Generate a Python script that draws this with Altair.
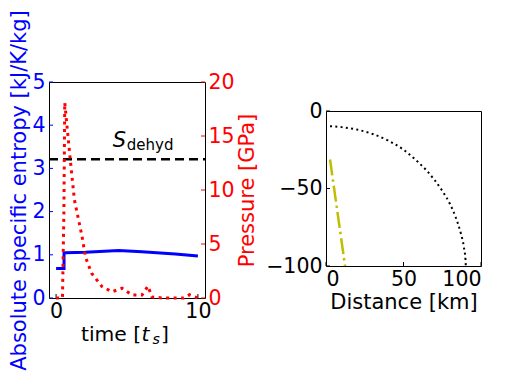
import altair as alt
import pandas as pd

FONT = "DejaVu Sans"
FS = 20.5
TFS = 21
XFS = 20.3

# ---- left panel data ----
ent_t = [0.0, 0.56, 0.56, 0.66, 2.07, 4.41, 6.06, 8.4, 10.0]
ent_v = [0.68, 0.68, 1.05, 1.05, 1.06, 1.10, 1.07, 1.02, 0.97]

pres_t = [0.0, 0.45, 0.55, 0.61, 0.77, 1.0, 1.29, 1.48, 1.83, 2.07, 2.5, 3.24,
          3.94, 4.65, 5.35, 6.06, 6.48, 6.76, 7.5, 9.0, 9.4, 10.0]
pres_v = [0.0, 0.0, 8.0, 18.1, 15.9, 12.8, 9.1, 7.9, 5.7, 3.8, 2.3, 1.05,
          0.58, 0.9, 0.28, 0.28, 1.1, 0.1, 0.0, 0.0, 0.3, 0.0]

s_dehyd = 3.21
ent_ticks = [0, 1, 2, 3, 4, 5]
pres_ticks = [0, 5, 10, 15, 20]
time_ticks = [0, 10]

# ---- right panel data ----
circ_x = [2.6, 10, 20, 30, 40, 50, 60, 65, 70, 75, 80, 84, 87, 89, 90, 90.2]
circ_y = [-9.8, -10.4, -12, -14.8, -19, -25, -33.5, -38.5, -44.5, -51.5, -60, -69.5, -79, -88, -96, -100]
yel_x = [2.6, 12.3]
yel_y = [-31.3, -100]
dist_ticks = [0, 50, 100]
depth_ticks = [-100, -50, 0]

LW, LH = 156, 216
RW, RH = 155, 155

ent_df = pd.DataFrame({"t": ent_t, "S": ent_v})
pres_df = pd.DataFrame({"t": pres_t, "P": pres_v})

xs = alt.Scale(domain=[-0.5, 10.5], nice=False)
ys = alt.Scale(domain=[0, 5], nice=False)
ps = alt.Scale(domain=[0, 20], nice=False)

ent_line = alt.Chart(ent_df).mark_line(color="blue", strokeWidth=3).encode(
    x=alt.X("t:Q", scale=xs, axis=alt.Axis(values=time_ticks, title=None, grid=False,
            ticks=False, domain=False, labelFont=FONT, labelFontSize=FS, labelColor="black",
            labelPadding=3)),
    y=alt.Y("S:Q", scale=ys, axis=alt.Axis(values=ent_ticks, title="Absolute specific entropy [kJ/K/kg]",
            grid=False, ticks=False, domain=False, labelFont=FONT, labelFontSize=FS,
            labelColor="blue", titleColor="blue", titleFont=FONT, titleFontSize=TFS,
            titleFontWeight="normal", labelPadding=4, titlePadding=2)),
)

ent_tick_rules = alt.Chart(pd.DataFrame({"S": ent_ticks})).mark_rule(color="blue", strokeWidth=1).encode(
    y=alt.Y("S:Q", scale=ys), x=alt.value(0), x2=alt.value(4))

time_tick_rules = alt.Chart(pd.DataFrame({"t": time_ticks})).mark_rule(color="black", strokeWidth=1).encode(
    x=alt.X("t:Q", scale=xs), y=alt.value(LH - 4), y2=alt.value(LH))

dehyd_rule = alt.Chart(pd.DataFrame({"S": [s_dehyd]})).mark_rule(
    color="black", strokeWidth=2.5, strokeDash=[9, 5]).encode(
    y=alt.Y("S:Q", scale=ys), x=alt.value(0), x2=alt.value(LW))

lab_df = pd.DataFrame({"t": [4.0], "S": [3.5]})
s_text = alt.Chart(lab_df).mark_text(text="S", font=FONT, fontSize=TFS, fontStyle="italic",
                                     align="left", baseline="alphabetic", color="black").encode(
    x=alt.X("t:Q", scale=xs), y=alt.Y("S:Q", scale=ys))
sub_text = alt.Chart(lab_df).mark_text(text="dehyd", font=FONT, fontSize=15, dx=14, dy=3,
                                       align="left", baseline="alphabetic", color="black").encode(
    x=alt.X("t:Q", scale=xs), y=alt.Y("S:Q", scale=ys))

one = pd.DataFrame({"a": [0]})
def ptxt(txt, x, y, size=XFS, style="normal"):
    return alt.Chart(one).mark_text(text=txt, font=FONT, fontSize=size, fontStyle=style,
                                    align="left", baseline="alphabetic", color="black").encode(
        x=alt.value(x), y=alt.value(y))

xt1 = ptxt("time [", 32, 258.5)
xt2 = ptxt("t", 92.5, 258.5, style="italic")
xt3 = ptxt("s", 103.5, 261.5, size=14.2, style="italic")
xt4 = ptxt("]", 112, 258.5)

pres_line = alt.Chart(pres_df).mark_line(color="red", strokeWidth=3, strokeDash=[3, 4.5]).encode(
    x=alt.X("t:Q", scale=xs),
    y=alt.Y("P:Q", scale=ps, axis=alt.Axis(orient="right", values=pres_ticks, title="Pressure [GPa]",
            grid=False, ticks=False, domain=False, labelFont=FONT, labelFontSize=FS,
            labelColor="red", titleColor="red", titleFont=FONT, titleFontSize=TFS,
            titleFontWeight="normal", titleAngle=270, titleBaseline="top",
            labelPadding=3, titlePadding=2)),
)
pres_tick_rules = alt.Chart(pd.DataFrame({"P": pres_ticks})).mark_rule(color="red", strokeWidth=1).encode(
    y=alt.Y("P:Q", scale=ps), x=alt.value(LW - 4), x2=alt.value(LW))

left_a = alt.layer(ent_line, ent_tick_rules, time_tick_rules, dehyd_rule, s_text, sub_text,
                   xt1, xt2, xt3, xt4)
left_b = alt.layer(pres_line, pres_tick_rules)
left = alt.layer(left_a, left_b).resolve_scale(y="independent").properties(width=LW, height=LH)

# ---- right panel ----
dx = alt.Scale(domain=[0, 100], nice=False)
dy = alt.Scale(domain=[-100, 0], nice=False)
circ_df = pd.DataFrame({"x": circ_x, "y": circ_y})
yel_df = pd.DataFrame({"x": yel_x, "y": yel_y})

circ_line = alt.Chart(circ_df).mark_line(color="black", strokeWidth=2, strokeDash=[2, 3.3],
                                         interpolate="monotone").encode(
    x=alt.X("x:Q", scale=dx, axis=alt.Axis(values=dist_ticks, title="Distance [km]", grid=False,
            ticks=False, domain=False, labelFont=FONT, labelFontSize=FS, labelColor="black",
            titleFont=FONT, titleFontSize=TFS, titleFontWeight="normal", titleColor="black",
            labelPadding=3, titlePadding=2)),
    y=alt.Y("y:Q", scale=dy, axis=alt.Axis(values=depth_ticks, title=None, grid=False,
            ticks=False, domain=False, labelFont=FONT, labelFontSize=FS, labelColor="black",
            labelPadding=4)),
)
yel_line = alt.Chart(yel_df).mark_line(color="#bfbf00", strokeWidth=2.5, strokeDash=[16, 4, 2.5, 4]).encode(
    x=alt.X("x:Q", scale=dx), y=alt.Y("y:Q", scale=dy))
r_xt = alt.Chart(pd.DataFrame({"x": dist_ticks})).mark_rule(color="black", strokeWidth=1).encode(
    x=alt.X("x:Q", scale=dx), y=alt.value(RH - 4), y2=alt.value(RH))
r_yt = alt.Chart(pd.DataFrame({"y": depth_ticks})).mark_rule(color="black", strokeWidth=1).encode(
    y=alt.Y("y:Q", scale=dy), x=alt.value(0), x2=alt.value(4))

right = alt.layer(circ_line, yel_line, r_xt, r_yt).properties(width=RW, height=RH)

spacer = alt.Chart(one).mark_point(opacity=0).encode(x=alt.value(0), y=alt.value(0)).properties(
    width=1, height=17, view=alt.ViewBackground(stroke="transparent"))

right_col = alt.vconcat(spacer, right, spacing=0)

chart = alt.hconcat(left, right_col, spacing=7).properties(
    padding={"left": 0, "top": 1, "right": 0, "bottom": 0}).configure(
    font=FONT).configure_view(stroke="black", strokeWidth=1)

chart.save("out.html", embed_options={"renderer": "svg", "actions": False})
